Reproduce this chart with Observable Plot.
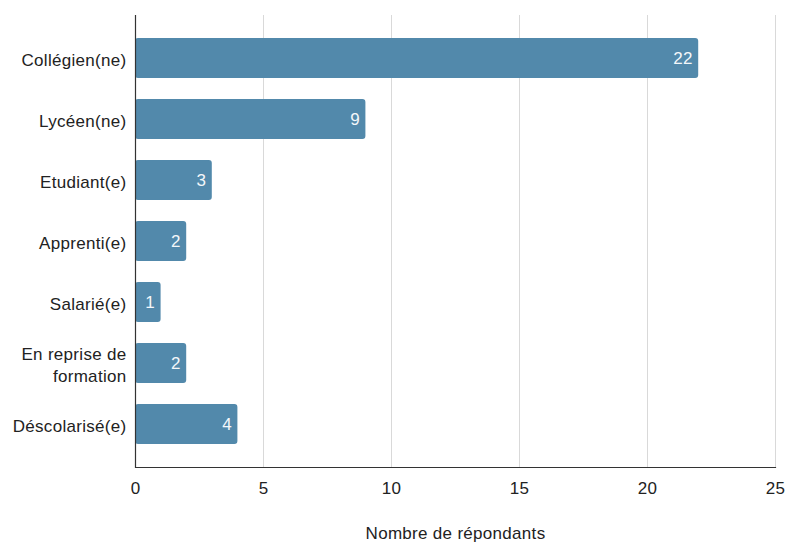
<!DOCTYPE html>
<html>
<head>
<meta charset="utf-8">
<script src="https://cdn.jsdelivr.net/npm/d3@7"></script>
<script src="https://cdn.jsdelivr.net/npm/@observablehq/plot@0.6"></script>
<style>
  html, body { margin: 0; padding: 0; background: #fff; }
  #chart svg { font-family: "Liberation Sans", Arial, sans-serif; }
  #chart svg text { letter-spacing: 0.3px; }
</style>
</head>
<body>
<div id="chart"></div>
<script>
const categories = ["Collégien(ne)", "Lycéen(ne)", "Etudiant(e)", "Apprenti(e)", "Salarié(e)", "En reprise de\nformation", "Déscolarisé(e)"];
const values = [22, 9, 3, 2, 1, 2, 4];
const xTicks = [0, 5, 10, 15, 20, 25];
const xLabel = "Nombre de répondants";

const data = categories.map((c, i) => ({category: c, value: values[i]}));

const chart = Plot.plot({
  width: 785,
  height: 545,
  marginLeft: 135,
  marginRight: 10,
  marginTop: 15,
  marginBottom: 78,
  style: {fontSize: "17px", color: "#222", background: "#fff"},
  x: {domain: [0, 25], ticks: xTicks},
  y: {domain: categories, padding: 0.35},
  marks: [
    Plot.gridX(xTicks.filter(d => d > 0), {stroke: "#d9d9d9", strokeOpacity: 1}),
    Plot.barX(data, {x: "value", y: "category", fill: "#5289ab", rx: 3}),
    Plot.text(data, {x: "value", y: "category", text: d => String(d.value), fill: "#f4f7fa", textAnchor: "end", dx: -6, fontSize: 17}),
    Plot.ruleX([0], {stroke: "#333", strokeWidth: 1.2}),
    Plot.frame({anchor: "bottom", stroke: "#333", strokeWidth: 1.2}),
    Plot.axisY({tickSize: 0, tickPadding: 9, label: null, fontSize: 17, lineHeight: 1.3}),
    Plot.axisX({ticks: xTicks, tickSize: 0, tickPadding: 14, label: xLabel, labelAnchor: "center", labelArrow: "none", labelOffset: 71, fontSize: 17})
  ]
});
document.getElementById("chart").appendChild(chart);
</script>
</body>
</html>
